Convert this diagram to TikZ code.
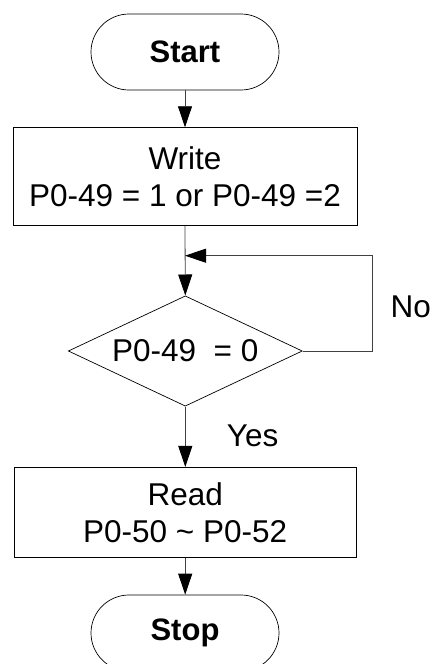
\documentclass[tikz,border=0pt]{standalone}
\usepackage{fontspec}
\setmainfont{Liberation Sans}
\usetikzlibrary{shapes.geometric,arrows.meta}
\begin{document}
\begin{tikzpicture}[x=1pt,y=-1pt,
  txt/.style={font=\fontsize{31.5}{37}\selectfont},
  term/.style={draw=black,line width=0.7pt,rounded corners=38pt,minimum width=188pt,minimum height=76pt,inner sep=0pt,font=\fontsize{31}{37}\selectfont\bfseries},
  procbox/.style={draw=black,line width=0.7pt,inner sep=0pt,align=center,txt},
  decision/.style={draw=black,line width=0.7pt,diamond,aspect=2.12,inner sep=0pt,minimum width=234pt,minimum height=110.3pt,txt},
  conn/.style={draw=black!75,line width=0.8pt,-{Triangle[length=21pt,width=14pt,color=black]}},
  plain/.style={draw=black!75,line width=0.8pt}
]
\useasboundingbox (0,0) rectangle (432,664);
\clip (0,0) rectangle (432,664);
\node[term] (start) at (185,52) {Start};
\node[procbox,minimum width=344pt,minimum height=98pt] (write) at (185,176.6) {Write\\P0-49 = 1 or P0-49 =2};
\node[decision] (dia) at (185.3,351) {P0-49 \ = 0};
\node[procbox,minimum width=342pt,minimum height=90pt] (read) at (185.2,512.3) {Read\\P0-50 \textasciitilde{} P0-52};
\node[term] (stop) at (185,633) {Stop};
\coordinate (loopin) at (185,255.7);
\coordinate (loopright) at (372.7,351);
\node[txt,anchor=base west,inner sep=0pt] (no) at (390.5,317) {No};
\node[txt,anchor=base west,inner sep=0pt] (yes) at (226.7,446.7) {Yes};
\draw[conn] (start.south) -- (start.south |- write.north);
\draw[conn] (write.south) -- (dia.north);
\draw[conn] (dia.east) -- (loopright) |- (loopin);
\draw[conn] (dia.south) -- (dia.south |- read.north);
\draw[conn] (read.south) -- (read.south |- stop.north);
\end{tikzpicture}
\end{document}
